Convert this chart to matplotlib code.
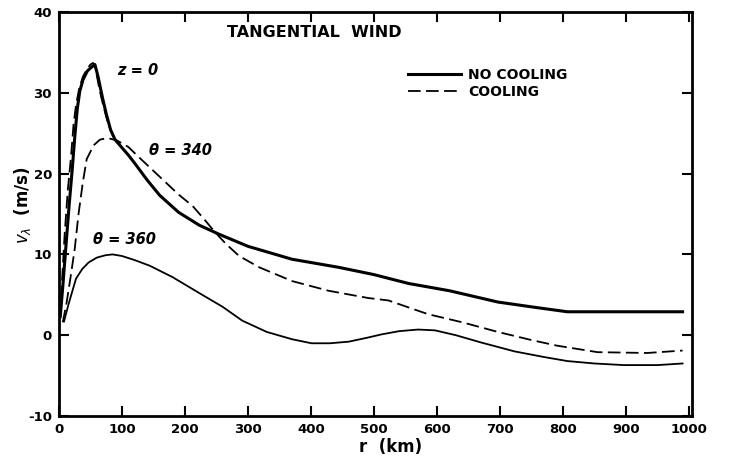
"""Tangential wind profiles, with and without cooling."""

import matplotlib

matplotlib.use("Agg")
import matplotlib.pyplot as plt

# z = 0, no cooling (thick solid)
r_z0_warm = [2, 6, 11, 16, 21, 25, 29, 33, 38, 45, 52, 57, 62, 69, 75, 82, 89,
             100, 110, 120, 140, 160, 190, 223, 254, 300, 370, 444, 500, 555,
             620, 697, 760, 807, 880, 990]
v_z0_warm = [2.3, 6.0, 11.0, 16.0, 20.5, 24.5, 28.0, 30.2, 31.6, 32.7, 33.2,
             33.5, 32.0, 29.4, 27.4, 25.4, 24.2, 23.2, 22.3, 21.3, 19.2, 17.3,
             15.2, 13.6, 12.5, 11.0, 9.4, 8.4, 7.5, 6.4, 5.5, 4.1, 3.4, 2.9,
             2.9, 2.9]

# z = 0, cooling (dashed, merges into the solid past the peak)
r_z0_cool = [2, 5, 9, 14, 19, 23, 27, 32, 38, 45, 50, 54, 58, 64, 70, 78, 85]
v_z0_cool = [2.3, 7.0, 12.5, 18.0, 22.0, 26.0, 28.5, 30.5, 32.0, 33.0, 33.5,
             33.7, 33.0, 30.5, 28.5, 26.2, 24.8]

# theta = 340, cooling (dashed)
r_t340 = [6, 12, 18, 25, 31, 38, 44, 55, 65, 77, 92, 110, 130, 160, 190, 212,
          230, 246, 265, 286, 318, 370, 428, 491, 523, 586, 640, 697, 750, 791,
          855, 934, 990]
v_t340 = [1.6, 4.0, 7.0, 10.7, 15.0, 19.0, 21.8, 23.5, 24.2, 24.4, 24.1, 23.3,
          21.8, 19.6, 17.4, 16.0, 14.4, 12.9, 11.3, 9.8, 8.4, 6.7, 5.5, 4.6,
          4.3, 2.6, 1.6, 0.4, -0.6, -1.3, -2.1, -2.2, -1.9]

# theta = 360 (thin solid)
r_t360 = [8, 15, 27, 37, 47, 60, 74, 85, 100, 120, 144, 180, 223, 260, 291,
          330, 370, 401, 430, 460, 490, 512, 540, 570, 597, 630, 670, 723, 770,
          807, 850, 897, 950, 990]
v_t360 = [1.7, 3.8, 7.0, 8.2, 9.0, 9.6, 9.9, 10.0, 9.8, 9.3, 8.6, 7.2, 5.2,
          3.5, 1.8, 0.4, -0.5, -1.0, -1.0, -0.8, -0.3, 0.1, 0.5, 0.7, 0.6, 0.0,
          -0.9, -2.0, -2.7, -3.2, -3.5, -3.7, -3.7, -3.5]

x_ticks = list(range(0, 1001, 100))
y_ticks = list(range(-10, 41, 10))

plt.rcParams["font.family"] = ["DejaVu Sans"]
plt.rcParams["axes.unicode_minus"] = False

fig = plt.figure(figsize=(7.32, 4.61), dpi=100)
ax = fig.add_axes([0.0806, 0.0976, 0.8648, 0.8764])

dash = (7, 3)
ax.plot(r_z0_warm, v_z0_warm, color="black", lw=2.2, label="NO COOLING")
ax.plot(r_z0_cool, v_z0_cool, color="black", lw=1.3, dashes=dash,
        label="COOLING")
ax.plot(r_t340, v_t340, color="black", lw=1.3, dashes=dash)
ax.plot(r_t360, v_t360, color="black", lw=1.3)

ax.set_xlim(0, 1005)
ax.set_ylim(-10, 40)
ax.set_xticks(x_ticks)
ax.set_yticks(y_ticks)
for lab in ax.get_xticklabels() + ax.get_yticklabels():
    lab.set_fontweight("bold")
    lab.set_fontsize(9.5)
ax.tick_params(direction="in", length=7, width=1.5, top=True, right=True,
               pad=5)
for sp in ax.spines.values():
    sp.set_linewidth(2)

ax.set_xlabel("r  (km)", fontsize=12, fontweight="bold")
ax.xaxis.set_label_coords(0.523, -0.055)
ax.set_ylabel(r"$v_{\lambda}$  (m/s)", fontsize=12, fontweight="bold")
ax.yaxis.label.set_va("center")
ax.yaxis.set_label_coords(-0.058, 0.522)

ax.text(0.403, 0.950, "TANGENTIAL  WIND", transform=ax.transAxes,
        ha="center", va="center", fontsize=11.5, fontweight="bold")
ax.text(125, 32.8, "z = 0", ha="center", va="center", fontsize=10.5,
        fontstyle="italic", fontweight="bold")
ax.text(193, 22.9, "θ = 340", ha="center", va="center", fontsize=10.5,
        fontstyle="italic", fontweight="bold")
ax.text(104, 11.9, "θ = 360", ha="center", va="center", fontsize=10.5,
        fontstyle="italic", fontweight="bold")

leg = ax.legend(loc="upper left", bbox_to_anchor=(0.551, 0.862),
                frameon=False, fontsize=10, handlelength=3.8,
                handletextpad=0.55, labelspacing=0.2, borderpad=0,
                borderaxespad=0)
for t in leg.get_texts():
    t.set_fontweight("bold")

fig.savefig("out.png", dpi=100)
